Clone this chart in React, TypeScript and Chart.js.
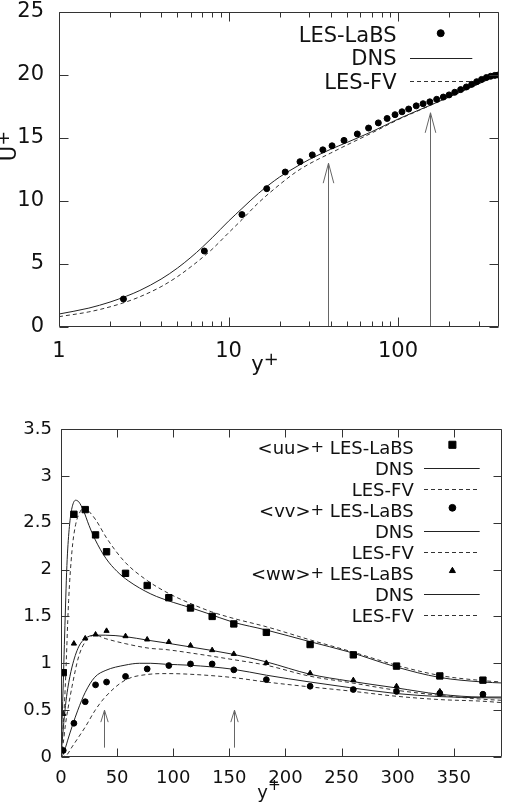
import React, { useEffect, useRef } from "react";
import { Chart, registerables } from "chart.js";

Chart.register(...registerables);

const FONT = '"DejaVu Sans", sans-serif';
const INK = "#111";

// ---------- Mean streamwise velocity U+ against y+ (log axis) ----------
const yPlusLaBS = [2.4, 7.2, 12.0, 16.8, 21.6, 26.4, 31.2, 36.0, 40.8, 48.0, 57.5, 67.0, 76.5, 86.2, 96.0, 105.5, 115.5, 128, 140.5, 154, 169, 185, 200, 216, 234, 253, 272, 291, 311, 332, 352, 372, 390];
const uPlusLaBS = [2.22, 6.03, 8.92, 10.98, 12.3, 13.12, 13.66, 14.06, 14.38, 14.81, 15.32, 15.79, 16.2, 16.55, 16.85, 17.08, 17.3, 17.55, 17.72, 17.87, 18.07, 18.25, 18.42, 18.63, 18.84, 19.05, 19.26, 19.47, 19.65, 19.8, 19.9, 19.97, 20.0];
const yPlusProfile = [1, 1.5, 2, 2.5, 3, 4, 5, 6, 7, 8, 10, 12, 15, 20, 25, 30, 40, 50, 70, 100, 150, 200, 300, 394];
const uPlusDNS = [1.03, 1.5, 1.98, 2.45, 2.9, 3.8, 4.68, 5.53, 6.33, 7.08, 8.4, 9.4, 10.6, 11.9, 12.7, 13.3, 14.1, 14.65, 15.5, 16.5, 17.52, 18.25, 19.3, 20.05];
const uPlusFV = [0.82, 1.2, 1.6, 2.0, 2.4, 3.2, 4.0, 4.78, 5.5, 6.17, 7.47, 8.52, 9.85, 11.3, 12.3, 12.95, 13.8, 14.45, 15.4, 16.45, 17.5, 18.25, 19.35, 20.05];
const velocityArrowYPlus = [38.6, 154];
const velocityArrowTip = [13.0, 17.0];
const velocityArrowBase = [0, 0];
const logTickValues = [1, 2, 3, 4, 5, 6, 7, 8, 9, 10, 20, 30, 40, 50, 60, 70, 80, 90, 100, 200, 300];
const logTickLabels = [1, 10, 100];
const uTickValues = [0, 5, 10, 15, 20, 25];

// ---------- RMS velocity fluctuations against y+ ----------
const yPlusStress = [2, 11.5, 21.6, 30.8, 40.6, 57.5, 76.8, 96.1, 115.4, 134.7, 154, 183, 222, 260.5, 299, 337.6, 376];
const uuLaBS = [0.9, 2.59, 2.64, 2.37, 2.19, 1.96, 1.83, 1.7, 1.59, 1.5, 1.42, 1.33, 1.2, 1.09, 0.97, 0.865, 0.82];
const vvLaBS = [0.07, 0.36, 0.59, 0.77, 0.8, 0.86, 0.94, 0.976, 0.993, 0.993, 0.93, 0.826, 0.755, 0.72, 0.7, 0.68, 0.67];
const wwLaBS = [0.46, 1.21, 1.265, 1.307, 1.346, 1.289, 1.254, 1.228, 1.19, 1.14, 1.1, 1.004, 0.894, 0.82, 0.755, 0.7, 0.66];

const yPlusUuDNS = [0, 1, 2, 3, 4, 5, 6, 8, 10, 13, 16, 20, 25, 30, 40, 50, 60, 80, 100, 115, 130, 153, 183, 222, 257, 299, 337, 376, 393];
const uuDNS = [0, 0.4, 0.78, 1.2, 1.6, 1.97, 2.22, 2.52, 2.67, 2.74, 2.72, 2.63, 2.47, 2.33, 2.12, 1.98, 1.88, 1.74, 1.65, 1.595, 1.535, 1.44, 1.355, 1.23, 1.12, 0.96, 0.85, 0.8, 0.79];
const yPlusUuFV = [0, 2, 3.8, 6.8, 9.8, 12.7, 17.2, 21, 25, 31, 41, 57, 76, 96, 115, 134, 154, 183, 222, 260, 300, 340, 376, 393];
const uuFV = [0, 0.35, 0.75, 1.67, 2.2, 2.46, 2.62, 2.665, 2.62, 2.53, 2.33, 2.08, 1.89, 1.745, 1.64, 1.55, 1.478, 1.39, 1.25, 1.12, 0.975, 0.865, 0.815, 0.8];

const yPlusVvDNS = [0, 2, 4, 6, 10, 15, 21.6, 30, 40, 57, 70, 80, 93, 115, 153, 183, 222, 257, 299, 337, 376, 393];
const vvDNS = [0, 0.03, 0.1, 0.18, 0.33, 0.5, 0.69, 0.85, 0.925, 0.98, 1.0, 1.0, 0.99, 0.979, 0.937, 0.873, 0.8, 0.741, 0.677, 0.645, 0.632, 0.63];
const yPlusVvFV = [0, 5, 9.8, 15, 21.6, 30.5, 39.4, 57.2, 76.5, 95, 115, 153, 183, 222, 257, 299, 337, 376, 393];
const vvFV = [0, 0.02, 0.107, 0.2, 0.32, 0.5, 0.64, 0.82, 0.88, 0.89, 0.883, 0.848, 0.8, 0.748, 0.705, 0.648, 0.613, 0.595, 0.58];

const yPlusWwDNS = [0, 2, 4, 6, 9.8, 15.7, 21.6, 30, 39.4, 57, 78, 93, 115, 153, 183, 222, 257, 299, 337, 376, 393];
const wwDNS = [0, 0.3, 0.55, 0.73, 0.96, 1.175, 1.264, 1.3, 1.3, 1.285, 1.245, 1.218, 1.175, 1.097, 1.015, 0.883, 0.81, 0.737, 0.67, 0.64, 0.64];
const yPlusWwFV = [0, 2, 4, 6, 9.8, 15.7, 21.6, 27, 30.5, 39.4, 57.2, 79, 93, 115, 153, 183, 222, 257, 299, 337, 376, 393];
const wwFV = [0, 0.15, 0.35, 0.5, 0.75, 1.07, 1.23, 1.29, 1.3, 1.264, 1.21, 1.16, 1.147, 1.111, 1.04, 0.979, 0.862, 0.795, 0.712, 0.659, 0.616, 0.605];

const stressArrowYPlus = [38.6, 154];
const stressArrowBase = [0.1, 0.1];
const stressArrowTip = [0.5, 0.5];
const stressXTicks = [0, 50, 100, 150, 200, 250, 300, 350];
const stressYTicks = [0, 0.5, 1, 1.5, 2, 2.5, 3, 3.5];

const pts = (xs: number[], ys: number[]) => xs.map((x, i) => ({ x, y: ys[i] }));

// Text where "⁺" is typeset as a raised plus sign.
function drawRich(
  ctx: CanvasRenderingContext2D,
  text: string,
  x: number,
  baseY: number,
  size: number,
  align: "left" | "right" | "center",
  supScale: number,
  supRaise: number
) {
  const segs: { t: string; sup: boolean }[] = [];
  text.split("⁺").forEach((p, i) => {
    if (i > 0) segs.push({ t: "+", sup: true });
    if (p) segs.push({ t: p, sup: false });
  });
  const fontOf = (s: { sup: boolean }) => `${s.sup ? size * supScale : size}px ${FONT}`;
  let total = 0;
  const widths = segs.map((s) => {
    ctx.font = fontOf(s);
    const w = ctx.measureText(s.t).width;
    total += w;
    return w;
  });
  let cx = align === "right" ? x - total : align === "center" ? x - total / 2 : x;
  ctx.textAlign = "left";
  ctx.textBaseline = "alphabetic";
  ctx.fillStyle = INK;
  segs.forEach((s, i) => {
    ctx.font = fontOf(s);
    ctx.fillText(s.t, cx, baseY - (s.sup ? size * supRaise : 0));
    cx += widths[i];
  });
}

function drawMark(ctx: CanvasRenderingContext2D, style: string, x: number, y: number, r: number) {
  ctx.fillStyle = "#000";
  ctx.strokeStyle = "#000";
  ctx.lineWidth = 1;
  ctx.setLineDash([]);
  ctx.beginPath();
  if (style === "rect") {
    const h = r * Math.SQRT1_2;
    ctx.rect(x - h, y - h, 2 * h, 2 * h);
  } else if (style === "triangle") {
    ctx.moveTo(x, y - r);
    ctx.lineTo(x + r * 0.866, y + r * 0.5);
    ctx.lineTo(x - r * 0.866, y + r * 0.5);
    ctx.closePath();
  } else {
    ctx.arc(x, y, r, 0, Math.PI * 2);
  }
  ctx.fill();
  ctx.stroke();
}

// Boxed frame with inward ticks on all four sides, arrows, key and axis titles.
const framePlugin = {
  id: "gnuFrame",
  afterDatasetsDraw(chart: any, _args: any, o: any) {
    const { ctx, chartArea: a, scales } = chart;
    const xs = scales.x;
    const ys = scales.y;
    ctx.save();

    // arrows
    ctx.strokeStyle = o.arrowColor;
    ctx.lineWidth = 1;
    ctx.setLineDash([]);
    o.arrowX.forEach((xv: number, i: number) => {
      const px = Math.round(xs.getPixelForValue(xv)) + 0.5;
      const y0 = ys.getPixelForValue(o.arrowFrom[i]);
      const y1 = ys.getPixelForValue(o.arrowTo[i]);
      ctx.beginPath();
      ctx.moveTo(px, y0);
      ctx.lineTo(px, y1);
      ctx.moveTo(px - o.headHalf, y1 + o.headLen);
      ctx.lineTo(px, y1);
      ctx.lineTo(px + o.headHalf, y1 + o.headLen);
      ctx.stroke();
    });

    // frame and ticks
    ctx.strokeStyle = o.frameColor;
    ctx.lineWidth = 1;
    const L = Math.round(a.left) + 0.5;
    const R = Math.round(a.right) - 0.5;
    const T = Math.round(a.top) + 0.5;
    const B = Math.round(a.bottom) - 0.5;
    ctx.beginPath();
    ctx.rect(L, T, R - L, B - T);
    xs.ticks.forEach((t: any) => {
      const v = t.value;
      const isMajor = !o.logX || Math.abs(Math.log10(v) - Math.round(Math.log10(v))) < 1e-9;
      const len = isMajor ? o.tickLen : o.minorLen;
      const px = Math.round(xs.getPixelForValue(v)) + 0.5;
      ctx.moveTo(px, B);
      ctx.lineTo(px, B - len);
      ctx.moveTo(px, T);
      ctx.lineTo(px, T + len);
    });
    ys.ticks.forEach((t: any) => {
      const py = Math.round(ys.getPixelForValue(t.value)) + 0.5;
      ctx.moveTo(L, py);
      ctx.lineTo(L + o.tickLen, py);
      ctx.moveTo(R, py);
      ctx.lineTo(R - o.tickLen, py);
    });
    ctx.stroke();

    // key
    const k = o.key;
    chart.data.datasets.forEach((ds: any, i: number) => {
      const cy = a.top + k.first + i * k.gap;
      drawRich(ctx, ds.label, a.right - k.textRight, cy + k.size * 0.365, k.size, "right", k.supScale, k.supRaise);
      if (ds.showLine === false) {
        drawMark(ctx, ds.pointStyle, a.right - k.mark, cy + k.markDy, ds.pointRadius + 0.5);
      } else {
        ctx.strokeStyle = ds.borderColor;
        ctx.lineWidth = 1;
        ctx.setLineDash(ds.borderDash || []);
        ctx.beginPath();
        ctx.moveTo(a.right - k.lineFrom, Math.round(cy) + 0.5);
        ctx.lineTo(a.right - k.lineTo, Math.round(cy) + 0.5);
        ctx.stroke();
        ctx.setLineDash([]);
      }
    });

    // axis titles
    o.titles.forEach((t: any) => {
      if (t.rotate) {
        ctx.save();
        ctx.translate(t.x, t.y);
        ctx.rotate(-Math.PI / 2);
        drawRich(ctx, t.text, 0, 0, t.size, "center", t.supScale, t.supRaise);
        ctx.restore();
      } else {
        drawRich(ctx, t.text, t.x, t.y, t.size, "center", t.supScale, t.supRaise);
      }
    });
    ctx.restore();
  },
};

const lineSet = (label: string, data: any[], dashed: boolean) => ({
  label,
  data,
  showLine: true,
  borderColor: dashed ? "#333" : "#222",
  borderWidth: 1,
  borderDash: dashed ? [4, 3] : [],
  pointRadius: 0,
  pointHitRadius: 0,
  cubicInterpolationMode: "monotone",
  fill: false,
});

const markSet = (label: string, data: any[], style: string, r: number) => ({
  label,
  data,
  showLine: false,
  pointStyle: style,
  pointRadius: r,
  pointBackgroundColor: "#000",
  pointBorderColor: "#000",
  pointBorderWidth: 1,
});

function velocityConfig(): any {
  return {
    type: "scatter",
    data: {
      datasets: [
        markSet("LES-LaBS", pts(yPlusLaBS, uPlusLaBS), "circle", 3),
        lineSet("DNS", pts(yPlusProfile, uPlusDNS), false),
        lineSet("LES-FV", pts(yPlusProfile, uPlusFV), true),
      ],
    },
    options: {
      animation: false,
      responsive: false,
      events: [],
      layout: { padding: { left: 0, right: 11, top: 12, bottom: 0 } },
      scales: {
        x: {
          type: "logarithmic",
          min: 1,
          max: 394,
          afterFit: (s: any) => {
            s.height = 63;
          },
          afterBuildTicks: (s: any) => {
            s.ticks = logTickValues.map((v) => ({ value: v }));
          },
          grid: { display: false, drawTicks: false },
          border: { display: false },
          ticks: {
            autoSkip: false,
            maxRotation: 0,
            padding: 13,
            color: INK,
            font: { family: FONT, size: 21, lineHeight: 1.1 },
            callback: (v: any) => (logTickLabels.includes(Number(v)) ? String(v) : ""),
          },
        },
        y: {
          min: 0,
          max: 25,
          afterFit: (s: any) => {
            s.width = 59;
          },
          afterBuildTicks: (s: any) => {
            s.ticks = uTickValues.map((v) => ({ value: v }));
          },
          // the label gap is taken as an undrawn tick length so it does not pad the plot top
          grid: { display: false, drawTicks: true, tickLength: 15 },
          border: { display: false },
          ticks: {
            padding: 0,
            color: INK,
            font: { family: FONT, size: 21, lineHeight: 1.1 },
            callback: (v: any) => String(v),
          },
        },
      },
      plugins: {
        legend: { display: false },
        tooltip: { enabled: false },
        gnuFrame: {
          frameColor: "#333",
          arrowColor: "#666",
          logX: true,
          tickLen: 9,
          minorLen: 5,
          arrowX: velocityArrowYPlus,
          arrowFrom: velocityArrowBase,
          arrowTo: velocityArrowTip,
          headLen: 20,
          headHalf: 5.3,
          key: { first: 22, gap: 23.5, size: 21, textRight: 102.5, mark: 58.3, markDy: -0.8, lineFrom: 89, lineTo: 26.7, supScale: 0.9, supRaise: 0.15 },
          titles: [
            { text: "y⁺", x: 265, y: 371, size: 21, supScale: 0.85, supRaise: 0.3 },
            { text: "U⁺", x: 15.5, y: 146, size: 21, rotate: true, supScale: 0.85, supRaise: 0.3 },
          ],
        },
      },
    },
    plugins: [framePlugin],
  };
}

function stressConfig(): any {
  return {
    type: "scatter",
    data: {
      datasets: [
        markSet("<uu>⁺ LES-LaBS", pts(yPlusStress, uuLaBS), "rect", 4.5),
        lineSet("DNS", pts(yPlusUuDNS, uuDNS), false),
        lineSet("LES-FV", pts(yPlusUuFV, uuFV), true),
        markSet("<vv>⁺ LES-LaBS", pts(yPlusStress, vvLaBS), "circle", 2.9),
        lineSet("DNS", pts(yPlusVvDNS, vvDNS), false),
        lineSet("LES-FV", pts(yPlusVvFV, vvFV), true),
        markSet("<ww>⁺ LES-LaBS", pts(yPlusStress, wwLaBS), "triangle", 3),
        lineSet("DNS", pts(yPlusWwDNS, wwDNS), false),
        lineSet("LES-FV", pts(yPlusWwFV, wwFV), true),
      ],
    },
    options: {
      animation: false,
      responsive: false,
      events: [],
      layout: { padding: { left: 0, right: 8, top: 29, bottom: 0 } },
      scales: {
        x: {
          type: "linear",
          min: 0,
          max: 393,
          afterFit: (s: any) => {
            s.height = 52;
          },
          afterBuildTicks: (s: any) => {
            s.ticks = stressXTicks.map((v) => ({ value: v }));
          },
          grid: { display: false, drawTicks: false },
          border: { display: false },
          ticks: {
            autoSkip: false,
            maxRotation: 0,
            padding: 11,
            color: INK,
            font: { family: FONT, size: 18 },
            callback: (v: any) => String(v),
          },
        },
        y: {
          min: 0,
          max: 3.5,
          afterFit: (s: any) => {
            s.width = 61;
          },
          afterBuildTicks: (s: any) => {
            s.ticks = stressYTicks.map((v) => ({ value: v }));
          },
          grid: { display: false, drawTicks: true, tickLength: 9 },
          border: { display: false },
          ticks: {
            padding: 0,
            color: INK,
            font: { family: FONT, size: 18 },
            callback: (v: any) => String(v),
          },
        },
      },
      plugins: {
        legend: { display: false },
        tooltip: { enabled: false },
        gnuFrame: {
          frameColor: "#333",
          arrowColor: "#666",
          logX: false,
          tickLen: 8,
          minorLen: 8,
          arrowX: stressArrowYPlus,
          arrowFrom: stressArrowBase,
          arrowTo: stressArrowTip,
          headLen: 12,
          headHalf: 3.7,
          key: { first: 18.3, gap: 21, size: 18, textRight: 88.3, mark: 49.6, markDy: -2.5, lineFrom: 78, lineTo: 22.3, supScale: 0.9, supRaise: 0.12 },
          titles: [{ text: "y⁺", x: 269, y: 398, size: 18, supScale: 0.85, supRaise: 0.45 }],
        },
      },
    },
    plugins: [framePlugin],
  };
}

export default function App() {
  const topRef = useRef<HTMLCanvasElement>(null);
  const bottomRef = useRef<HTMLCanvasElement>(null);

  useEffect(() => {
    const top = new Chart(topRef.current as HTMLCanvasElement, velocityConfig());
    const bottom = new Chart(bottomRef.current as HTMLCanvasElement, stressConfig());
    return () => {
      top.destroy();
      bottom.destroy();
    };
  }, []);

  return (
    <div style={{ position: "absolute", left: 0, top: 0, width: 510, height: 809, background: "#fff" }}>
      <canvas
        ref={topRef}
        width={510}
        height={390}
        style={{ position: "absolute", left: 0, top: 0, width: 510, height: 390 }}
      />
      <canvas
        ref={bottomRef}
        width={510}
        height={409}
        style={{ position: "absolute", left: 0, top: 400, width: 510, height: 409 }}
      />
    </div>
  );
}
